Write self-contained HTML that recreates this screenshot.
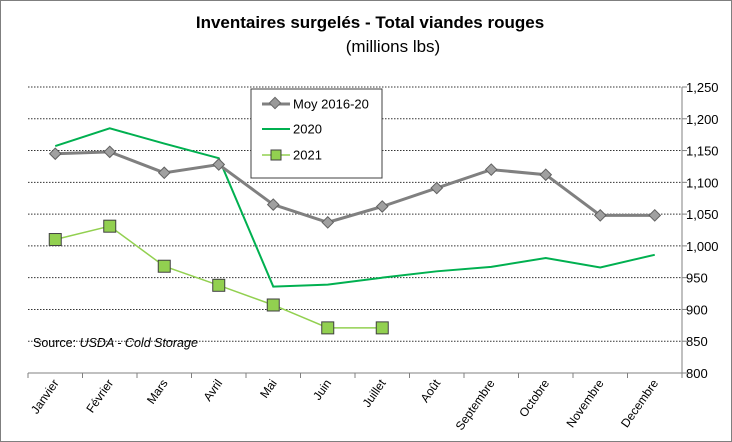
<!DOCTYPE html>
<html><head><meta charset="utf-8"><style>
html,body{margin:0;padding:0;background:#fff}
svg{display:block;font-family:"Liberation Sans",Arial,sans-serif}
</style></head><body>
<svg id="chart" width="732" height="442">
<rect x="0.5" y="0.5" width="731" height="441" fill="#fff" stroke="#7f7f7f"/>
<text x="370" y="28" text-anchor="middle" font-size="17" font-weight="bold">Inventaires surgelés - Total viandes rouges</text>
<text x="393" y="52" text-anchor="middle" font-size="17">(millions lbs)</text>
<g id="grid"></g><g id="axes"></g><g id="series"></g>
<text x="33" y="347" font-size="12.5">Source: <tspan font-style="italic">USDA - Cold Storage</tspan></text>
<g>
<rect x="251" y="89" width="131" height="89" fill="#fff" stroke="#404040" stroke-width="1"/>
<g><line x1="262" y1="104" x2="290" y2="104" stroke="#808080" stroke-width="3"/><rect x="271" y="99" width="8" height="8" transform="rotate(45 275 103)" fill="#999" stroke="#666"/><text x="293" y="108.5" font-size="13">Moy 2016-20</text></g>
<g><line x1="262" y1="129" x2="290" y2="129" stroke="#00b050" stroke-width="2"/><text x="293" y="133.5" font-size="13">2020</text></g>
<g><line x1="262" y1="155" x2="290" y2="155" stroke="#92d050" stroke-width="1.5"/><rect x="271" y="150" width="10" height="10" fill="#92d050" stroke="#404040"/><text x="293" y="159.5" font-size="13">2021</text></g>
</g>
</svg>
<script>
const categories=["Janvier","Février","Mars","Avril","Mai","Juin","Juillet","Août","Septembre","Octobre","Novembre","Decembre"];
const moy=[1145,1148,1115,1128,1065,1037,1062,1091,1120,1112,1048,1048];
const s2020=[1157,1185,1161,1138,936,939,950,960,967,981,966,986];
const s2021=[1010,1031,968,938,907,871,871];
const yTicks=[800,850,900,950,1000,1050,1100,1150,1200,1250];
const yTickLabels=["800","850","900","950","1,000","1,050","1,100","1,150","1,200","1,250"];
const NS="http://www.w3.org/2000/svg";
const L=28,R=682,T=87,B=373,yMin=800,yMax=1250;
const step=(R-L)/categories.length;
const x=i=>L+step*(i+0.5);
const y=v=>B-(v-yMin)/(yMax-yMin)*(B-T);
function mk(tag,attrs,parent){const e=document.createElementNS(NS,tag);for(const k in attrs)e.setAttribute(k,attrs[k]);parent.appendChild(e);return e;}
const grid=document.getElementById('grid'),axes=document.getElementById('axes'),ser=document.getElementById('series');
yTicks.forEach((v,i)=>{
  if(v>yMin){const g=mk('line',{x1:L,x2:R,y1:y(v),y2:y(v),stroke:'#333','stroke-width':1,'stroke-dasharray':'1.5,1.5'},grid);
  
  }
  const t=mk('line',{x1:R,x2:R+5,y1:y(v),y2:y(v),stroke:'#808080'},axes);
  
  
  const lb=mk('text',{x:R+4,y:y(v)+5,'font-size':13},axes);lb.textContent=yTickLabels[i];
  
  
});
const ya=mk('line',{x1:R,x2:R,y1:T,y2:B,stroke:'#808080'},axes);


const xa=mk('line',{x1:L,x2:R,y1:B,y2:B,stroke:'#808080'},axes);


for(let i=0;i<=categories.length;i++){const t=mk('line',{x1:L+step*i,x2:L+step*i,y1:B,y2:B+5,stroke:'#808080'},axes);

}
categories.forEach((c,i)=>{const t=mk('text',{x:x(i)+4,y:B+10,'font-size':12,'text-anchor':'end',transform:`rotate(-55 ${x(i)+4} ${B+10})`},axes);t.textContent=c;

});
function line(vals,color,w,name){const p=mk('polyline',{points:vals.map((v,i)=>x(i)+','+y(v)).join(' '),fill:'none',stroke:color,'stroke-width':w},ser);

}
line(s2020,'#00b050',2,'line-2020');
line(moy,'#808080',3,'line-moy-2016-20');
moy.forEach((v,i)=>{const d=mk('rect',{x:x(i)-4,y:y(v)-4,width:8,height:8,transform:`rotate(45 ${x(i)} ${y(v)})`,fill:'#a0a0a0',stroke:'#606060'},ser);

});
line(s2021,'#92d050',1.5,'line-2021');
s2021.forEach((v,i)=>{const r=mk('rect',{x:x(i)-6,y:y(v)-6,width:12,height:12,fill:'#92d050',stroke:'#404040'},ser);

});
</script>
</body></html>
